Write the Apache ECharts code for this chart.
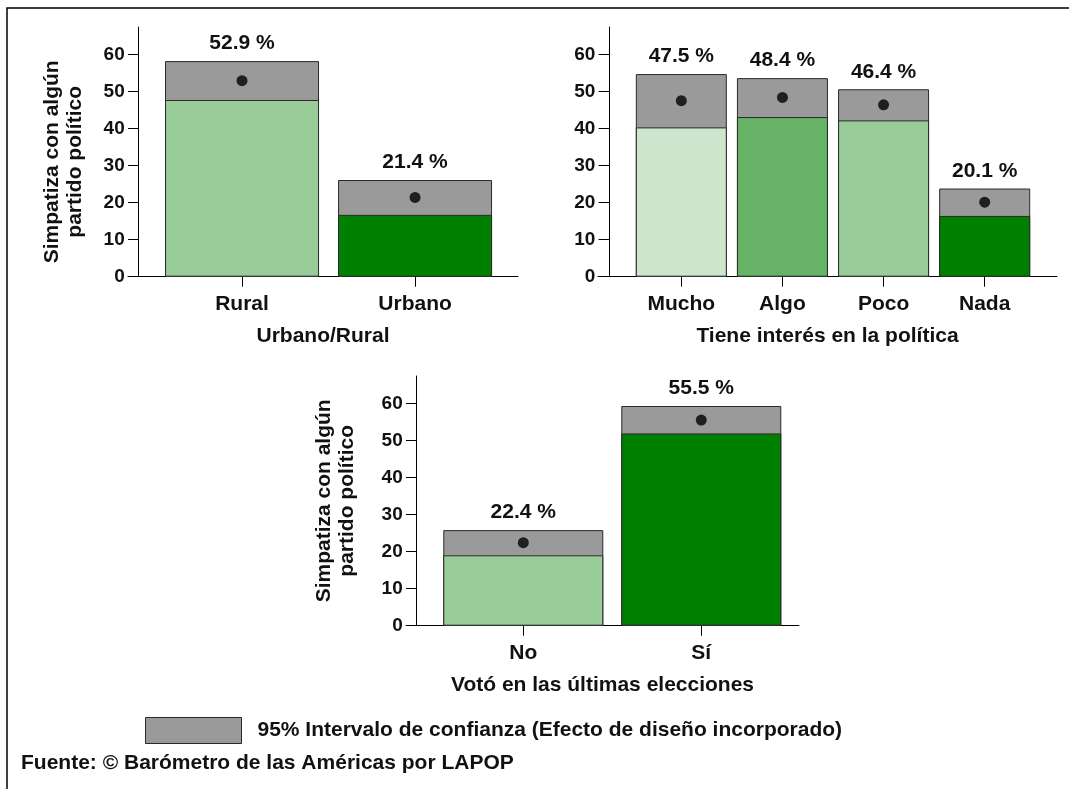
<!DOCTYPE html>
<html><head><meta charset="utf-8">
<script src="https://cdn.jsdelivr.net/npm/echarts@6/dist/echarts.min.js"></script>
<style>html,body{margin:0;padding:0;background:#fff}#c{width:1069px;height:789px}</style>
</head><body><div id="c"></div>
<script>
const yTicks = [0, 10, 20, 30, 40, 50, 60];
const yAxisTitle = 'Simpatiza con algún\npartido político';
const ciName = '95% Intervalo de confianza (Efecto de diseño incorporado)';
const sourceText = 'Fuente: © Barómetro de las Américas por LAPOP';

// Panel 1: Urbano/Rural
const p1Title = 'Urbano/Rural';
const p1Categories = ['Rural', 'Urbano'];
const p1Means = [52.9, 21.4];
const p1Lower = [47.7, 16.7];
const p1Upper = [58.2, 26.1];
const p1Colors = ['#99cc99', '#008000'];

// Panel 2: Tiene interés en la política
const p2Title = 'Tiene interés en la política';
const p2Categories = ['Mucho', 'Algo', 'Poco', 'Nada'];
const p2Means = [47.5, 48.4, 46.4, 20.1];
const p2Lower = [40.3, 43.1, 42.2, 16.4];
const p2Upper = [54.7, 53.6, 50.6, 23.8];
const p2Colors = ['#cce5cc', '#66b266', '#99cc99', '#008000'];

// Panel 3: Votó en las últimas elecciones
const p3Title = 'Votó en las últimas elecciones';
const p3Categories = ['No', 'Sí'];
const p3Means = [22.4, 55.5];
const p3Lower = [19.0, 51.9];
const p3Upper = [25.8, 59.3];
const p3Colors = ['#99cc99', '#008000'];

const FONT = '"Liberation Sans", Arial, sans-serif';
const TXT = '#111';
const FS = 21;

const panels = [
  { title: p1Title, cats: p1Categories, means: p1Means, lower: p1Lower, upper: p1Upper, colors: p1Colors,
    grid: { left: 128, top: 27, width: 390, height: 249.7 }, xMin: 0.341, xMax: 2.595, yOffset: -10.7,
    barWidth: 154, yName: yAxisTitle, nameGapY: 52, namePad: [0, 20, 0, 0] },
  { title: p2Title, cats: p2Categories, means: p2Means, lower: p2Lower, upper: p2Upper, colors: p2Colors,
    grid: { left: 598, top: 27, width: 459, height: 249.7 }, xMin: 0.176, xMax: 4.715, yOffset: -11.3,
    barWidth: 91, yName: '', nameGapY: 52, namePad: [0, 0, 0, 0] },
  { title: p3Title, cats: p3Categories, means: p3Means, lower: p3Lower, upper: p3Upper, colors: p3Colors,
    grid: { left: 406, top: 376, width: 393, height: 249.7 }, xMin: 0.341, xMax: 2.549, yOffset: -10.7,
    barWidth: 160, yName: yAxisTitle, nameGapY: 58, namePad: [0, 0, 0, 0] }
];

const grids = [], xAxes = [], yAxes = [], series = [];
panels.forEach((p, i) => {
  const pos = p.cats.map((c, k) => k + 1);
  grids.push(Object.assign({ containLabel: false }, p.grid));
  xAxes.push({
    gridIndex: i, type: 'value', min: p.xMin, max: p.xMax,
    name: p.title, nameLocation: 'middle', nameGap: 49,
    nameTextStyle: { fontFamily: FONT, fontWeight: 'bold', fontSize: FS, color: TXT },
    axisLine: { show: true, onZero: false, lineStyle: { color: '#000', width: 1 } },
    axisTick: { show: true, customValues: pos, length: 10, lineStyle: { color: '#000' } },
    axisLabel: { show: true, customValues: pos, margin: 17, fontFamily: FONT, fontWeight: 'bold', fontSize: FS, color: TXT,
      formatter: v => p.cats[Math.round(v) - 1] || '' },
    splitLine: { show: false }
  });
  yAxes.push({
    gridIndex: i, type: 'value', min: 0, max: 67.4, position: 'left', offset: p.yOffset,
    name: p.yName, nameLocation: 'middle', nameGap: p.nameGapY,
    nameTextStyle: { fontFamily: FONT, fontWeight: 'bold', fontSize: FS, color: TXT, lineHeight: 23, align: 'center', padding: p.namePad },
    axisLine: { show: true, onZero: false, lineStyle: { color: '#000', width: 1 } },
    axisTick: { show: true, customValues: yTicks, length: 10.7, lineStyle: { color: '#000' } },
    axisLabel: { show: true, customValues: yTicks, margin: 14, fontFamily: FONT, fontWeight: 'bold', fontSize: 19, color: TXT },
    splitLine: { show: false }
  });
  series.push({
    name: ciName, type: 'bar', xAxisIndex: i, yAxisIndex: i, barWidth: p.barWidth, barGap: '-100%',
    itemStyle: { color: '#9a9a9a', borderColor: '#2a2a2a', borderWidth: 1 },
    label: { show: true, position: 'top', distance: 7, fontFamily: FONT, fontWeight: 'bold', fontSize: FS, color: TXT,
      formatter: prm => p.means[prm.dataIndex].toFixed(1) + ' %' },
    data: pos.map((x, k) => [x, p.upper[k]]),
    silent: true, z: 2
  });
  series.push({
    name: 'lower' + i, type: 'bar', xAxisIndex: i, yAxisIndex: i, barWidth: p.barWidth, barGap: '-100%',
    data: pos.map((x, k) => ({ value: [x, p.lower[k]], itemStyle: { color: p.colors[k], borderColor: '#2a2a2a', borderWidth: 1 } })),
    silent: true, z: 3
  });
  series.push({
    name: 'mean' + i, type: 'scatter', xAxisIndex: i, yAxisIndex: i, symbol: 'circle', symbolSize: 11,
    itemStyle: { color: '#000' }, data: pos.map((x, k) => [x, p.means[k]]), silent: true, z: 4
  });
});

const chart = echarts.init(document.getElementById('c'), null, { renderer: 'canvas' });
chart.setOption({
  animation: false,
  backgroundColor: '#fff',
  grid: grids, xAxis: xAxes, yAxis: yAxes, series: series,
  legend: {
    data: [ciName], left: 145, top: 717, itemWidth: 96, itemHeight: 26, padding: 0, selectedMode: false, icon: 'rect',
    itemStyle: { color: '#9a9a9a', borderColor: '#2a2a2a', borderWidth: 1 },
    textStyle: { fontFamily: FONT, fontWeight: 'bold', fontSize: FS, color: TXT, padding: [0, 0, 0, 11] }
  },
  title: {
    text: sourceText, left: 14, top: 753, padding: [0, 0, 0, 7],
    textStyle: { fontFamily: FONT, fontWeight: 'bold', fontSize: FS, color: TXT }
  },
  graphic: [{
    type: 'rect', silent: true, z: 100,
    shape: { x: 7, y: 8, width: 1100, height: 820 },
    style: { fill: 'none', stroke: '#000', lineWidth: 1.5 }
  }]
});
</script></body></html>
